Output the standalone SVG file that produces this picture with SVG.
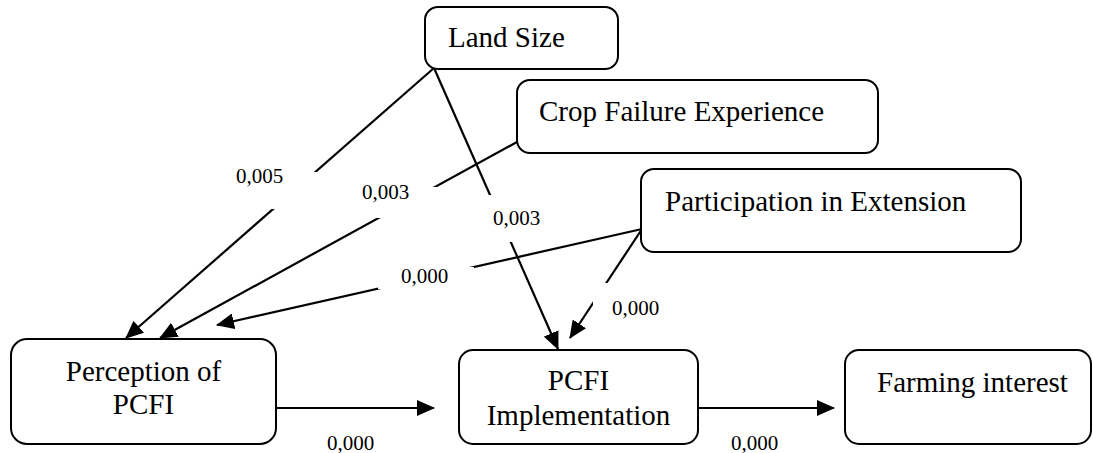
<svg xmlns="http://www.w3.org/2000/svg" width="1093" height="453" viewBox="0 0 1093 453">
<style>
.box{fill:#fff;stroke:#000;stroke-width:2}
.t{font-family:"Liberation Serif","Times New Roman",serif;font-size:29px;fill:#000}
.c{text-anchor:middle}
.lbl{font-family:"Liberation Serif","Times New Roman",serif;font-size:21px;fill:#000}
.ln{stroke:#000;stroke-width:2.2;fill:none}
.mask{fill:#fff;stroke:none}
</style>
<defs>
<marker id="ah" markerUnits="userSpaceOnUse" markerWidth="18" markerHeight="16" viewBox="0 0 18 16" refX="17" refY="8" orient="auto">
<path d="M0,0 L18,8 L0,16 Z" fill="#000"/>
</marker>
</defs>
<rect width="1093" height="453" fill="#fff"/>
<g id="connectors">
<line class="ln" x1="434" y1="68" x2="126" y2="338" marker-end="url(#ah)"/>
<line class="ln" x1="434" y1="68" x2="558" y2="349" marker-end="url(#ah)"/>
<line class="ln" x1="517" y1="142" x2="160" y2="338" marker-end="url(#ah)"/>
<line class="ln" x1="642" y1="229" x2="217" y2="325" marker-end="url(#ah)"/>
<line class="ln" x1="642" y1="229" x2="570" y2="338" marker-end="url(#ah)"/>
<line class="ln" x1="276" y1="408" x2="434" y2="408" marker-end="url(#ah)"/>
<line class="ln" x1="698" y1="408" x2="834" y2="408" marker-end="url(#ah)"/>
<g id="labels">
<rect class="mask" x="225" y="172" width="92" height="37"/>
<text class="lbl" x="236" y="183">0,005</text>
<rect class="mask" x="352" y="187" width="86" height="31"/>
<text class="lbl" x="362" y="199">0,003</text>
<rect class="mask" x="484" y="195" width="62" height="47"/>
<text class="lbl" x="493" y="225">0,003</text>
<rect class="mask" x="378" y="267" width="96" height="22"/>
<text class="lbl" x="401" y="283">0,000</text>
<rect class="mask" x="593" y="283" width="80" height="40"/>
<text class="lbl" x="612" y="315">0,000</text>
<text class="lbl" x="327" y="450">0,000</text>
<text class="lbl" x="731" y="450">0,000</text>
</g>
</g>
<g id="land-size">
<rect class="box" x="425" y="7" width="193" height="62" rx="13"/>
<text class="t" x="448" y="47">Land Size</text>
</g>
<g id="crop-failure">
<rect class="box" x="517" y="80" width="361" height="73" rx="13"/>
<text class="t" x="539" y="121">Crop Failure Experience</text>
</g>
<g id="participation">
<rect class="box" x="641" y="169" width="380" height="83" rx="13"/>
<text class="t" x="665" y="211">Participation in Extension</text>
</g>
<g id="perception">
<rect class="box" x="11" y="339" width="265" height="105" rx="16"/>
<text class="t c" x="143.5" y="381">Perception of</text>
<text class="t c" x="143.5" y="414">PCFI</text>
</g>
<g id="implementation">
<rect class="box" x="459" y="350" width="239" height="94" rx="14"/>
<text class="t c" x="578.5" y="390">PCFI</text>
<text class="t c" x="578.5" y="425">Implementation</text>
</g>
<g id="farming-interest">
<rect class="box" x="845" y="350" width="246" height="94" rx="14"/>
<text class="t" x="877" y="392">Farming interest</text>
</g>
</svg>
